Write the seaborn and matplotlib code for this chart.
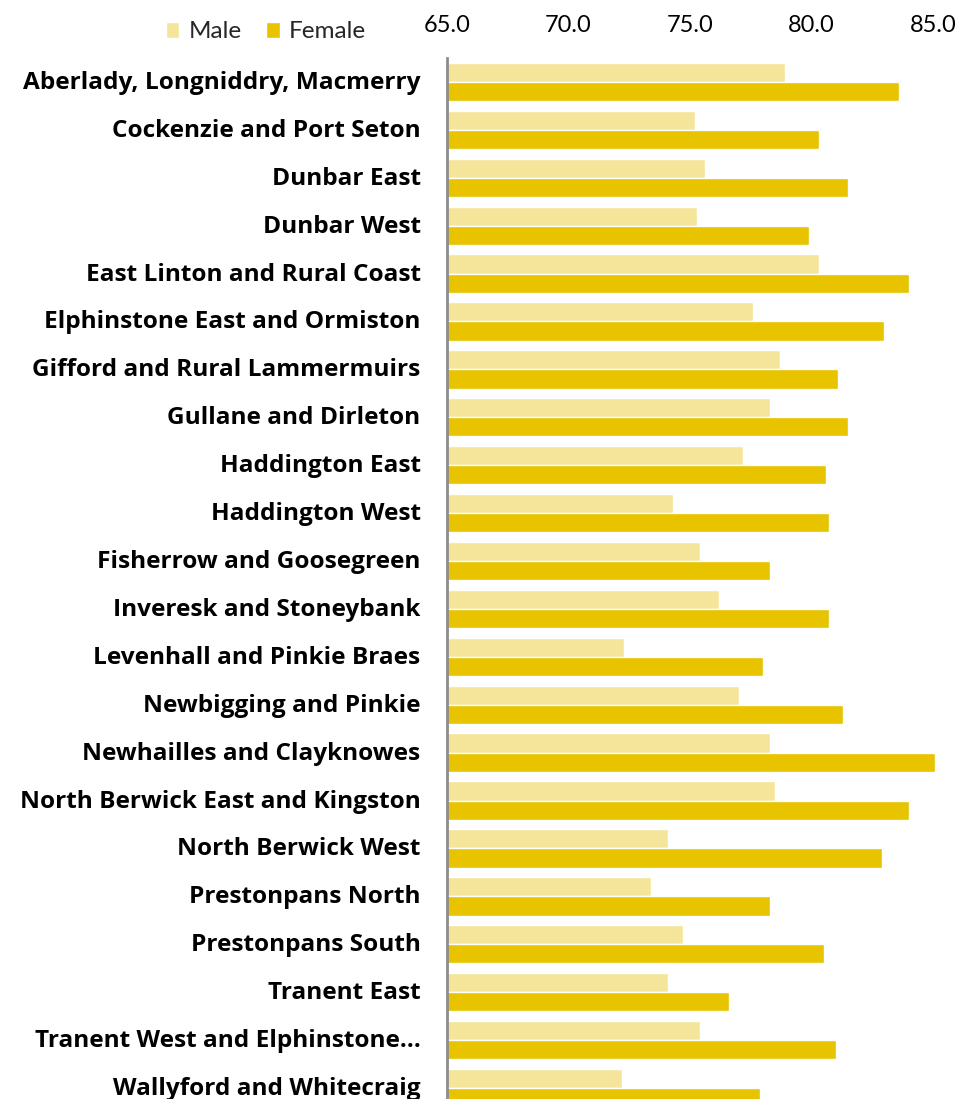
import pandas as pd
import numpy as np
import matplotlib.pyplot as plt
import matplotlib.transforms as mtransforms
import seaborn as sns

# wards and life expectancy (years)
wards = ['Aberlady, Longniddry, Macmerry', 'Cockenzie and Port Seton', 'Dunbar East',
         'Dunbar West', 'East Linton and Rural Coast', 'Elphinstone East and Ormiston',
         'Gifford and Rural Lammermuirs', 'Gullane and Dirleton', 'Haddington East',
         'Haddington West', 'Fisherrow and Goosegreen', 'Inveresk and Stoneybank',
         'Levenhall and Pinkie Braes', 'Newbigging and Pinkie', 'Newhailles and Clayknowes',
         'North Berwick East and Kingston', 'North Berwick West', 'Prestonpans North',
         'Prestonpans South', 'Tranent East', 'Tranent West and Elphinstone\u2026',
         'Wallyford and Whitecraig']
male = [78.9, 75.2, 75.6, 75.3, 80.3, 77.6, 78.7, 78.3, 77.2, 74.3, 75.4,
        76.2, 72.3, 77.0, 78.3, 78.5, 74.1, 73.4, 74.7, 74.1, 75.4, 72.2]
female = [83.6, 80.3, 81.5, 79.9, 84.0, 83.0, 81.1, 81.5, 80.6, 80.7, 78.3,
          80.7, 78.0, 81.3, 85.1, 84.0, 82.9, 78.3, 80.5, 76.6, 81.0, 77.9]
ticks = [65, 70, 75, 80, 85]

df = pd.DataFrame({'Ward': wards * 2,
                   'Sex': ['Male'] * len(wards) + ['Female'] * len(wards),
                   'Years': male + female})

sns.set_style('white')
plt.rcParams['font.family'] = ['Lato', 'DejaVu Sans']

fig = plt.figure(figsize=(9.62, 10.99), dpi=100)
ax = fig.add_axes([447 / 962, 0, 1 - 447 / 962, 1 - 58 / 1099])

sns.barplot(data=df, y='Ward', x='Years', hue='Sex', orient='h',
            palette={'Male': '#F5E59B', 'Female': '#E8C300'},
            width=0.8, saturation=1, ax=ax, legend=True)

ax.set_xlim(65, 65 + (962 - 447) / 24.3)
ax.set_ylim(21 + (1099 - 1088) / 47.9, -0.5)
ax.set_xticks(ticks)
ax.set_xticklabels([f'{t:.1f}' for t in ticks])
ax.xaxis.tick_top()
ax.tick_params(axis='x', length=0, pad=16, labelsize=17, labelcolor='#000000')
ax.tick_params(axis='y', length=0, pad=19, labelcolor='#000000')
# nudge ward names up a couple of pixels
shift = mtransforms.ScaledTranslation(0, 2 / 100, fig.dpi_scale_trans)
for lab in ax.get_yticklabels():
    lab.set_fontweight('bold')
    lab.set_fontfamily(['Open Sans', 'DejaVu Sans'])
    lab.set_fontsize(17.6)
    lab.set_transform(lab.get_transform() + shift)
ax.set_xlabel('')
ax.set_ylabel('')

sns.despine(ax=ax, top=True, right=True, bottom=True, left=False)
ax.spines['left'].set_color('#8C8C8C')
ax.spines['left'].set_linewidth(2)

handles, labels = ax.get_legend_handles_labels()
ax.legend(handles, labels, loc='center', bbox_to_anchor=(266 / 962, 1 - 32 / 1099),
          bbox_transform=fig.transFigure, ncol=2, frameon=False, fontsize=17.5,
          handlelength=0.55, handleheight=0.6, handletextpad=0.4, columnspacing=1.0)

fig.savefig('out.png', dpi=100)
